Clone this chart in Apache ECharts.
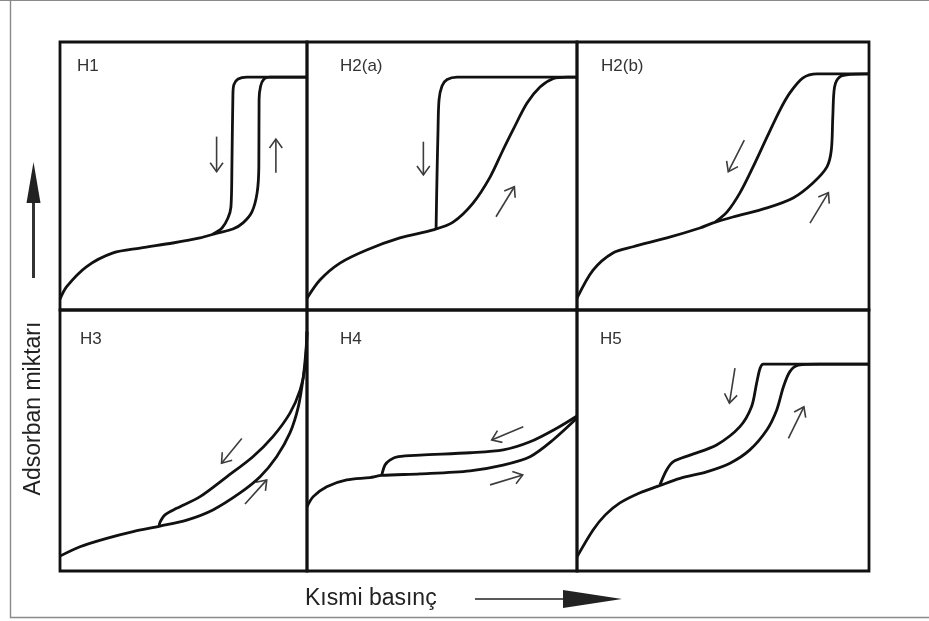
<!DOCTYPE html>
<html>
<head>
<meta charset="utf-8">
<title>Histerezis döngüleri</title>
<script src="https://cdn.jsdelivr.net/npm/echarts@6/dist/echarts.min.js"></script>
<style>
  html, body { margin: 0; padding: 0; background: #fff; }
  #chart { width: 929px; height: 621px; }
</style>
</head>
<body>
<div id="chart"></div>
<script>
// Hysteresis loop types (IUPAC H1–H5).
// x: relative pressure (0–1), y: normalised adsorbed amount (0–1).
const panelNames = ['H1', 'H2(a)', 'H2(b)', 'H3', 'H4', 'H5'];
const xAxisTitle = 'Kısmi basınç';
const yAxisTitle = 'Adsorban miktarı';

const h1Ads = [[0,0.04],[0.027,0.087],[0.108,0.162],[0.215,0.213],[0.324,0.231],[0.457,0.25],[0.567,0.269],[0.636,0.287],[0.7,0.302],[0.741,0.325],[0.777,0.366],[0.798,0.437],[0.805,0.534],[0.806,0.784],[0.812,0.835],[0.826,0.862],[0.85,0.869],[1,0.869]];
const h1Des = [[1,0.869],[0.757,0.869],[0.721,0.862],[0.704,0.841],[0.7,0.8],[0.696,0.534],[0.692,0.384],[0.68,0.343],[0.656,0.306],[0.62,0.284]];

const h2aAds = [[0,0.044],[0.048,0.112],[0.122,0.175],[0.221,0.224],[0.344,0.269],[0.467,0.299],[0.541,0.328],[0.615,0.399],[0.678,0.496],[0.726,0.597],[0.763,0.672],[0.815,0.772],[0.863,0.832],[0.911,0.863],[0.963,0.869],[1,0.869]];
const h2aDes = [[1,0.869],[0.556,0.869],[0.519,0.86],[0.5,0.836],[0.489,0.784],[0.485,0.66],[0.481,0.474],[0.478,0.299]];

const h2bAds = [[0,0.044],[0.055,0.149],[0.123,0.213],[0.192,0.236],[0.308,0.269],[0.421,0.306],[0.466,0.325],[0.534,0.347],[0.651,0.381],[0.74,0.418],[0.808,0.474],[0.856,0.534],[0.871,0.597],[0.876,0.72],[0.882,0.832],[0.899,0.869],[0.935,0.879],[1,0.881]];
const h2bDes = [[1,0.881],[0.822,0.881],[0.774,0.866],[0.729,0.81],[0.695,0.746],[0.651,0.646],[0.603,0.534],[0.558,0.437],[0.514,0.366],[0.473,0.328]];

const h3Ads = [[0,0.057],[0.081,0.093],[0.189,0.125],[0.296,0.151],[0.405,0.172],[0.513,0.195],[0.619,0.234],[0.729,0.299],[0.81,0.361],[0.877,0.438],[0.931,0.529],[0.965,0.63],[0.985,0.744],[0.996,0.847],[1,0.917]];
const h3Des = [[1,0.917],[0.992,0.783],[0.972,0.693],[0.931,0.605],[0.862,0.515],[0.781,0.438],[0.675,0.361],[0.567,0.285],[0.472,0.24],[0.425,0.215],[0.405,0.187],[0.401,0.17]];

const h4Ads = [[0,0.246],[0.023,0.285],[0.073,0.323],[0.147,0.349],[0.233,0.358],[0.277,0.366],[0.419,0.372],[0.604,0.384],[0.726,0.406],[0.826,0.438],[0.911,0.502],[1,0.586]];
const h4Des = [[1,0.594],[0.925,0.547],[0.826,0.495],[0.727,0.464],[0.604,0.453],[0.419,0.444],[0.338,0.438],[0.307,0.425],[0.289,0.406],[0.277,0.368]];

const h5Ads = [[0,0.054],[0.055,0.157],[0.097,0.215],[0.147,0.261],[0.216,0.3],[0.278,0.325],[0.353,0.355],[0.444,0.38],[0.524,0.413],[0.592,0.464],[0.65,0.54],[0.684,0.617],[0.707,0.706],[0.729,0.764],[0.758,0.789],[0.832,0.793],[1,0.793]];
const h5Des = [[1,0.793],[0.638,0.793],[0.627,0.777],[0.615,0.719],[0.598,0.63],[0.558,0.553],[0.478,0.483],[0.387,0.444],[0.33,0.419],[0.307,0.387],[0.284,0.33]];

// Direction arrows per panel: [xStart, yStart, xTip, yTip]
const h1Arrows = [[0.634,0.647,0.634,0.516],[0.874,0.512,0.874,0.638]];
const h2aArrows = [[0.431,0.628,0.431,0.504],[0.7,0.348,0.768,0.46]];
const h2bArrows = [[0.573,0.634,0.518,0.516],[0.798,0.324,0.861,0.438]];
const h3Arrows = [[0.736,0.508,0.654,0.413],[0.749,0.257,0.837,0.349]];
const h4Arrows = [[0.801,0.553,0.684,0.502],[0.678,0.33,0.799,0.368]];
const h5Arrows = [[0.541,0.777,0.522,0.643],[0.724,0.508,0.777,0.629]];

const branches = [
  [h1Ads, h1Des], [h2aAds, h2aDes], [h2bAds, h2bDes],
  [h3Ads, h3Des], [h4Ads, h4Des], [h5Ads, h5Des]
];
const arrowSets = [h1Arrows, h2aArrows, h2bArrows, h3Arrows, h4Arrows, h5Arrows];

// Panel boxes (px)
const colX = [60, 307, 577, 869];
const rowY = [42, 310, 571];
const grids = [];
for (let r = 0; r < 2; r++) {
  for (let c = 0; c < 3; c++) {
    grids.push({
      left: colX[c], top: rowY[r],
      width: colX[c + 1] - colX[c], height: rowY[r + 1] - rowY[r],
      show: true, borderColor: '#111', borderWidth: 2.8,
      backgroundColor: 'transparent'
    });
  }
}

const hiddenAxis = (i) => ({
  type: 'value', gridIndex: i, min: 0, max: 1,
  show: false, splitLine: { show: false }
});

const curveStyle = { color: '#111', width: 2.8 };

function renderArrow(params, api) {
  const p1 = api.coord([api.value(0), api.value(1)]);
  const p2 = api.coord([api.value(2), api.value(3)]);
  const ang = Math.atan2(p2[1] - p1[1], p2[0] - p1[0]);
  const len = 11, spread = 0.62;
  const w1 = [p2[0] - len * Math.cos(ang - spread), p2[1] - len * Math.sin(ang - spread)];
  const w2 = [p2[0] - len * Math.cos(ang + spread), p2[1] - len * Math.sin(ang + spread)];
  const style = { stroke: '#3c3c3c', lineWidth: 1.6, fill: null };
  return {
    type: 'group',
    children: [
      { type: 'polyline', shape: { points: [p1, p2] }, style },
      { type: 'polyline', shape: { points: [w1, p2, w2] }, style }
    ]
  };
}

const series = [];
branches.forEach((pair, i) => {
  pair.forEach((data) => {
    series.push({
      type: 'line', xAxisIndex: i, yAxisIndex: i, data,
      symbol: 'none', smooth: 0.3, clip: false,
      lineStyle: curveStyle, silent: true, animation: false
    });
  });
  series.push({
    type: 'custom', xAxisIndex: i, yAxisIndex: i,
    data: arrowSets[i], renderItem: renderArrow,
    encode: { x: [0, 2], y: [1, 3] }, silent: true, animation: false
  });
});

const labelPos = [[77, 66], [340, 66], [601, 66], [80, 339], [340, 339], [600, 339]];
const fontFamily = '"Liberation Sans", Arial, sans-serif';

const graphic = [
  // page frame
  { type: 'polyline', shape: { points: [[0, 0.5], [929, 0.5]] }, style: { stroke: '#8a8a8a', lineWidth: 1.2, fill: null } },
  { type: 'polyline', shape: { points: [[10.5, 0], [10.5, 617.5], [929, 617.5]] }, style: { stroke: '#8a8a8a', lineWidth: 1.4, fill: null } },
  // axis titles
  { type: 'text', left: 305, top: 587, style: { text: xAxisTitle, font: '23px ' + fontFamily, fill: '#222' } },
  { type: 'text', x: 34, y: 408.5, rotation: Math.PI / 2,
    style: { text: yAxisTitle, font: '23px ' + fontFamily, fill: '#222', textAlign: 'center', textVerticalAlign: 'middle' } },
  // x direction arrow
  { type: 'line', shape: { x1: 475, y1: 599, x2: 566, y2: 599 }, style: { stroke: '#222', lineWidth: 1.6 } },
  { type: 'polygon', shape: { points: [[563, 590], [622, 599], [563, 608]] }, style: { fill: '#222' } },
  // y direction arrow
  { type: 'line', shape: { x1: 33.5, y1: 278, x2: 33.5, y2: 200 }, style: { stroke: '#333', lineWidth: 3 } },
  { type: 'polygon', shape: { points: [[26.5, 203], [33.5, 162], [40.5, 203]] }, style: { fill: '#222' } }
];
panelNames.forEach((name, i) => {
  graphic.push({
    type: 'text', x: labelPos[i][0], y: labelPos[i][1],
    style: { text: name, font: '17px ' + fontFamily, fill: '#333', textVerticalAlign: 'middle' }
  });
});

const chart = echarts.init(document.getElementById('chart'), null, { renderer: 'canvas' });
chart.setOption({
  backgroundColor: '#fff',
  animation: false,
  grid: grids,
  xAxis: grids.map((g, i) => hiddenAxis(i)),
  yAxis: grids.map((g, i) => hiddenAxis(i)),
  series,
  graphic
});
</script>
</body>
</html>
